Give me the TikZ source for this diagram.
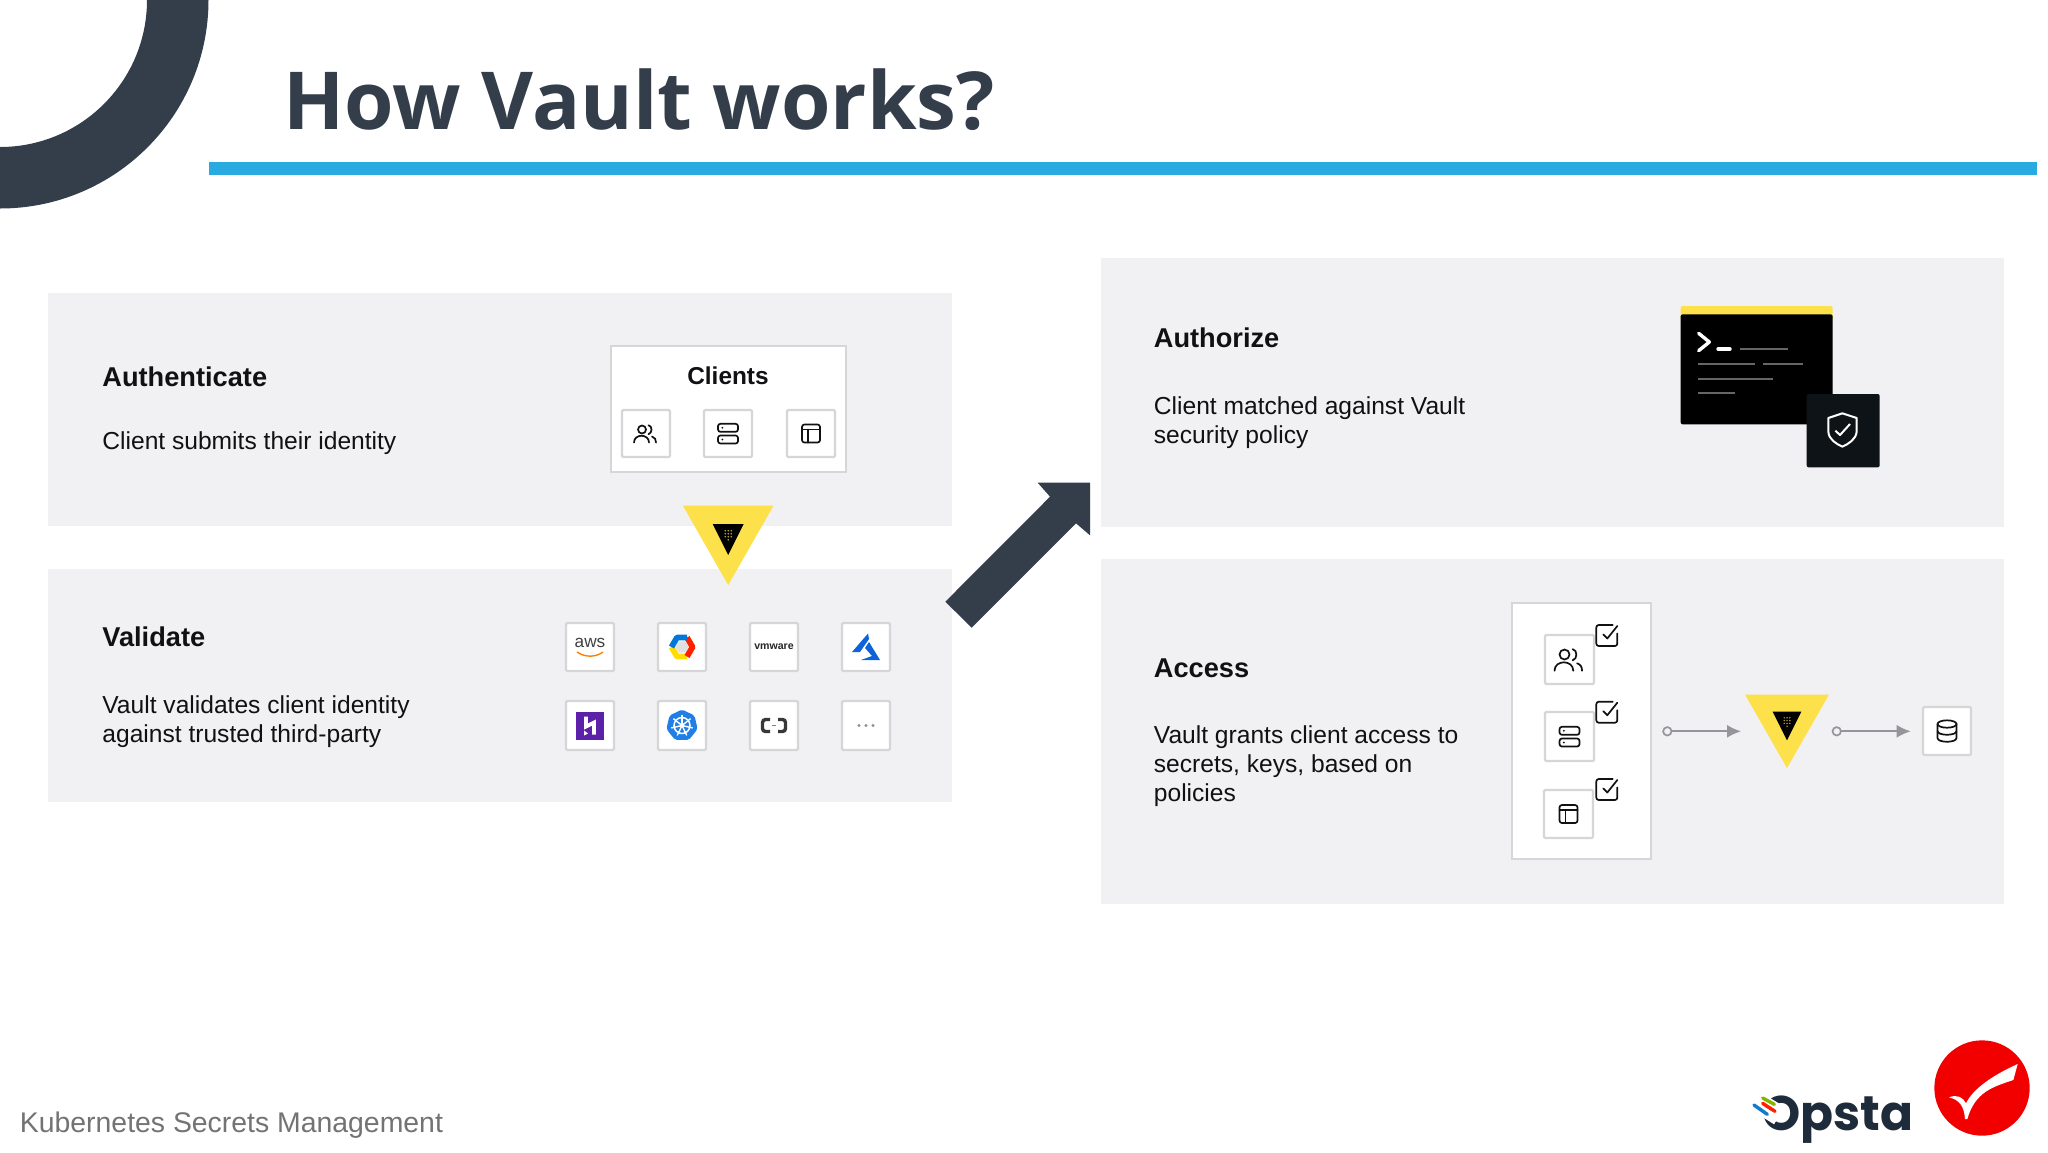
\documentclass[tikz,border=0pt]{standalone}
\usepackage{fontspec}
\setmainfont{Liberation Sans}
\newfontfamily\titlefont{Open Sans}
\newfontfamily\logofont{Poppins}
\usetikzlibrary{arrows.meta}
\definecolor{panelc}{HTML}{F1F0F3}
\definecolor{edgec}{HTML}{D6D6D9}
\definecolor{slatec}{HTML}{343E4A}
\definecolor{bluec}{HTML}{29ABE2}
\definecolor{yellowc}{HTML}{FDE14B}
\definecolor{inkc}{HTML}{111114}
\definecolor{connc}{HTML}{96969A}
\definecolor{herokuc}{HTML}{5B21A8}
\definecolor{kubec}{HTML}{1F7FE6}
\definecolor{azurec}{HTML}{0F63D8}
\definecolor{shieldc}{HTML}{0D1316}
\definecolor{opstac}{HTML}{1E2B3A}
\tikzset{
  x=0.5pt,y=-0.5pt,
  panel/.style={fill=panelc,draw=none,inner sep=0pt,outer sep=0pt},
  whitebox/.style={fill=white,draw=edgec,line width=1.1pt,inner sep=0pt,outer sep=0pt},
  iconbox/.style={fill=white,draw=edgec,line width=1.1pt,inner sep=0pt,outer sep=0pt,rounded corners=0.6pt},
  ink/.style={draw=inkc,line width=0.85pt,line cap=round,line join=round,fill=none},
  headtext/.style={anchor=base west,inner sep=0pt,font=\fontsize{13.6}{16}\selectfont\bfseries,text=inkc},
  bodytext/.style={anchor=base west,inner sep=0pt,font=\fontsize{12.3}{15}\selectfont,text=inkc},
  conn/.style={draw=connc,line width=0.85pt,-{Latex[length=7pt,width=6.5pt]}},
  ringdot/.style={circle,draw=connc,fill=panelc,line width=0.85pt,minimum size=4.2pt,inner sep=0pt,outer sep=0pt},
}
% box by corners: name, x1, y1, x2, y2, style
\newcommand{\pbx}[6]{\node[#6,anchor=north west,minimum width={(#4-#2)*0.5pt},minimum height={(#5-#3)*0.5pt}] (#1) at (#2,#3) {};}
\newcommand{\iusers}[2]{\begin{scope}[shift={(#1)},scale=#2]
  \draw[ink] (-4,-4) circle (4);
  \draw[ink] (2.5,-8.3) .. controls (6.5,-7.5) and (6.5,-0.5) .. (2.5,0.7);
  \draw[ink] (-12,9) .. controls (-12,0) and (3,0) .. (3,9);
  \draw[ink] (6,3) .. controls (9,4) and (10,6) .. (10,9);
\end{scope}}
\newcommand{\iserver}[1]{\begin{scope}[shift={(#1)}]
  \draw[ink,rounded corners=1.2pt] (-10,-9.7) rectangle (10,-1.7);
  \draw[ink,rounded corners=1.2pt] (-10,2) rectangle (10,10);
  \fill[inkc] (-5.7,-5.7) circle (1) (-5.7,6) circle (1);
\end{scope}}
\newcommand{\ilayout}[1]{\begin{scope}[shift={(#1)}]
  \draw[ink,rounded corners=1.2pt] (-9,-9) rectangle (9,9);
  \draw[ink] (-9,-4) -- (9,-4) (-3,-4) -- (-3,9);
\end{scope}}
\newcommand{\icheck}[1]{\begin{scope}[shift={(#1)}]
  \draw[ink,rounded corners=1.2pt] (6,-10.5) -- (-10.5,-10.5) -- (-10.5,10.5) -- (10.5,10.5) -- (10.5,-2);
  \draw[ink] (-3.5,-1) -- (0.5,3) -- (10.5,-9.5);
\end{scope}}
% vault triangle: centre x, top y, scale, coordinate prefix
\newcommand{\vaulttri}[4]{\begin{scope}[shift={(#1,#2)},scale=#3]
  \fill[yellowc] (-45.3,0) -- (45.3,0) -- (0,79.3) -- cycle;
  \fill[black] (-15.5,18.3) -- (15.5,18.3) -- (0,49.3) -- cycle;
  \foreach \dx in {-3,0,3} \foreach \dy in {25,28,31} {\fill[yellowc!75!black] (\dx,\dy) circle (0.9);}
  \fill[yellowc!75!black] (0,34) circle (0.9);
  \coordinate (#4w) at (-45.3,40);
\end{scope}}
\begin{document}
\begin{tikzpicture}
\useasboundingbox (0,0) rectangle (2048,1152);
\fill[white] (0,0) rectangle (2048,1152);
% header
\fill[slatec] (208.5,0) arc[start angle=0,end angle=90,radius=208.5] -- (0,147) arc[start angle=90,end angle=0,radius=147] -- cycle;
\node[anchor=base west,inner sep=0pt,font=\titlefont\fontsize{40}{48}\selectfont\bfseries,text=slatec] (title) at (283,129.8) {How Vault works?};
\pbx{rule}{209}{162}{2037}{175}{fill=bluec,inner sep=0pt,outer sep=0pt}
% panels
\pbx{pauth}{48}{293}{952}{526}{panel}
\pbx{pval}{48}{569}{952}{802}{panel}
\pbx{pauthz}{1101}{258}{2004}{527}{panel}
\pbx{pacc}{1101}{559}{2004}{904}{panel}
% left texts
\node[headtext] (t1) at (102,386.5) {Authenticate};
\node[bodytext] (t2) at (102,449) {Client submits their identity};
\node[headtext] (t3) at (102,646) {Validate};
\node[bodytext] (t4) at (102,713) {Vault validates client identity};
\node[bodytext] (t5) at (102,742) {against trusted third-party};
% clients
\pbx{clients}{611}{346}{846}{472}{whitebox}
\node[anchor=base,inner sep=0pt,font=\fontsize{12.2}{14}\selectfont\bfseries,text=inkc] (clientst) at (728,384) {Clients};
\pbx{c1}{622}{410}{670}{457}{iconbox}
\pbx{c2}{704}{410}{752}{457}{iconbox}
\pbx{c3}{787}{410}{835}{457}{iconbox}
\iusers{c1.center}{1}\iserver{c2.center}\ilayout{c3.center}
\vaulttri{728.2}{505.7}{1}{va}
% provider icons
\pbx{v1}{566}{623}{614}{671}{iconbox}
\pbx{v2}{658}{623}{706}{671}{iconbox}
\pbx{v3}{750}{623}{798}{671}{iconbox}
\pbx{v4}{842}{623}{890}{671}{iconbox}
\pbx{v5}{566}{701}{614}{750}{iconbox}
\pbx{v6}{658}{701}{706}{750}{iconbox}
\pbx{v7}{750}{701}{798}{750}{iconbox}
\pbx{v8}{842}{701}{890}{750}{iconbox}
% aws
\node[anchor=base,inner sep=0pt,font=\fontsize{8.6}{10}\selectfont,text=black!75] (awst) at ([yshift=-0.3pt]v1.center) {aws};
\draw[orange,line width=0.7pt] ([shift={(-13,5)}]v1.center) .. controls ([shift={(-4,11)}]v1.center) and ([shift={(6,10)}]v1.center) .. ([shift={(13,5)}]v1.center);
% gcp
\begin{scope}[shift={(v2.center)}]
  \fill[black!12] (-6.5,0) -- (-3.3,-5.6) -- (3.3,-5.6) -- (6.5,0) -- (3.3,5.6) -- (-3.3,5.6) -- cycle;
  \draw[line width=2.9pt,line join=round,draw=yellow!80!orange] (5,9.5) -- (-5,9.5) -- (-10.5,0);
  \draw[line width=2.9pt,line join=round,draw=red!75!orange] (5,-9.5) -- (10.5,0) -- (5,9.5);
  \draw[line width=2.9pt,line join=round,draw=blue!45!cyan!85!black] (-10.5,0) -- (-5,-9.5) -- (5,-9.5);
\end{scope}
% vmware
\node[inner sep=0pt,font=\fontsize{5.3}{7}\selectfont\bfseries,text=black!85] (vmw) at (v3.center) {vmware};
% azure
\begin{scope}[shift={(v4.center)}]
  \fill[azurec] (2,-13.5) -- (-14,5) -- (-6,5) -- (3,-8) -- cycle;
  \fill[azurec] (3,-5) -- (-1,1) -- (6,9) -- (-5,13) -- (14,13) -- cycle;
\end{scope}
% heroku
\begin{scope}[shift={(v5.center)}]
  \fill[herokuc] (-14,-14) rectangle (14,14);
  \draw[white,line width=1.9pt] (-4,-9) -- (-4,1) -- (4,-3) -- (4,9);
  \fill[white] (-6,5) -- (-2,8) -- (-6,10) -- cycle;
\end{scope}
% kubernetes
\begin{scope}[shift={(v6.center)}]
  \fill[kubec,rounded corners=1pt] (90:-16) -- (141.4:-16) -- (192.9:-16) -- (244.3:-16) -- (295.7:-16) -- (347.1:-16) -- (38.6:-16) -- cycle;
  \draw[white,line width=0.75pt] (0,0) circle (8);
  \fill[white] (0,0) circle (2.2);
  \foreach \a in {90,141.4,192.9,244.3,295.7,347.1,38.6} {\draw[white,line width=0.7pt] (0,0) -- (\a:-11);}
\end{scope}
% alibaba
\begin{scope}[shift={(v7.center)}]
  \draw[black!78,line width=1.7pt,rounded corners=1.5pt] (-4,-6) -- (-11.5,-6) -- (-11.5,6) -- (-4,6);
  \draw[black!78,line width=1.7pt,rounded corners=1.5pt] (4,-6) -- (11.5,-6) -- (11.5,6) -- (4,6);
  \draw[black!50,line width=0.4pt] (-2,0) -- (2,0);
\end{scope}
% dots
\fill[black!45] ([xshift=-3.5pt]v8.center) circle (1.6) (v8.center) circle (1.6) ([xshift=3.5pt]v8.center) circle (1.6);
% right texts
\node[headtext] (t6) at (1153.5,347) {Authorize};
\node[bodytext] (t7) at (1153.5,414) {Client matched against Vault};
\node[bodytext] (t8) at (1153.5,443) {security policy};
\node[headtext] (t9) at (1153.5,677) {Access};
\node[bodytext] (t10) at (1153.5,743) {Vault grants client access to};
\node[bodytext] (t11) at (1153.5,772) {secrets, keys, based on};
\node[bodytext] (t12) at (1153.5,801) {policies};
% terminal
\begin{scope}[shift={(1660,290)},scale=1/3]
  \fill[yellowc,rounded corners=1pt] (62,48) rectangle (518,90);
  \fill[black,rounded corners=1pt] (62,73) rectangle (518,403);
  \draw[white,line width=1.7pt,line cap=round,line join=round] (116,130) -- (148,156) -- (116,182);
  \draw[white,line width=1.7pt,line cap=round] (174,177) -- (210,177);
  \draw[black!60!white,line width=1.1pt] (240,177) -- (384,177) (114,221) -- (284,221) (310,221) -- (428,221) (114,266) -- (340,266) (114,310) -- (226,310);
  \fill[shieldc,rounded corners=1pt] (440,312) rectangle (659,532);
  \draw[white,line width=1pt,line join=round] (547,370) -- (590,384) -- (590,425) .. controls (588,448) and (565,462) .. (547,470) .. controls (529,462) and (506,448) .. (505,425) -- (505,384) -- cycle;
  \draw[white,line width=1pt,line join=round] (526,422) -- (540,435) -- (570,402);
\end{scope}
% access
\pbx{abig}{1512}{603}{1651}{859}{whitebox}
\pbx{a1}{1545}{635}{1594}{684}{iconbox}
\pbx{a2}{1545}{712}{1594}{761}{iconbox}
\pbx{a3}{1544}{790}{1593}{838}{iconbox}
\iusers{a1.center}{1.25}\iserver{a2.center}\ilayout{a3.center}
\icheck{1606.8,635.5}\icheck{1606.8,712.2}\icheck{1606.8,789.5}
\vaulttri{1787}{694.7}{0.925}{vb}
\pbx{dbbox}{1923}{707}{1971}{755}{iconbox}
\begin{scope}[shift={(dbbox.center)}]
  \draw[ink] (0,-7) ellipse (9.5 and 3.7);
  \draw[ink] (-9.5,-7) -- (-9.5,7) .. controls (-9.5,12) and (9.5,12) .. (9.5,7) -- (9.5,-7);
  \draw[ink] (-9.5,0) .. controls (-9.5,5) and (9.5,5) .. (9.5,0);
\end{scope}
\node[ringdot] (r1) at (1667.3,731.3) {};
\node[ringdot] (r2) at (1836.7,731.3) {};
\coordinate (t1end) at (1741,731.3);
\coordinate (t2end) at (1910.7,731.3);
\draw[conn] (r1) -- (t1end);
\draw[conn] (r2) -- (t2end);
% big arrow
\fill[slatec] (1037.7,482.7) -- (1090,482.7) -- (1090,535.3) -- (1076,523.3) -- (971.7,627.7) -- (945.3,601.7) -- (1050,496.7) -- cycle;
% footer
\node[anchor=base west,inner sep=0pt,font=\fontsize{14.2}{17}\selectfont,text=black!55] (foot) at (19.5,1132) {Kubernetes Secrets Management};
% logos
\node[anchor=base west,inner sep=0pt,font=\logofont\fontsize{24.3}{30}\selectfont\bfseries,text=opstac] (opsta) at (1762,1130) {Opsta};
\begin{scope}[shift={(1730,1020)},scale=1/3]
  \draw[white,line width=5pt] (60,250) -- (140,300);
  \draw[white,line width=4pt] (90,230) -- (140,260);
  \draw[cyan!60!blue,line width=1.7pt,line cap=round] (72,255) -- (112,283);
  \draw[red!75!orange,line width=1.7pt,line cap=round] (98,250) -- (135,274);
  \draw[lime!70!black,line width=1.7pt,line cap=round] (98,234) -- (133,253);
  \fill[red!95!black] (756,204) circle (143);
  \fill[white] (863,132) -- (850,180) .. controls (790,200) and (735,215) .. (712,297) -- (705,297) .. controls (702,260) and (690,240) .. (657,232) .. controls (680,222) and (700,232) .. (708,250) .. controls (730,205) and (790,165) .. (863,132) -- cycle;
\end{scope}
\end{tikzpicture}
\end{document}
